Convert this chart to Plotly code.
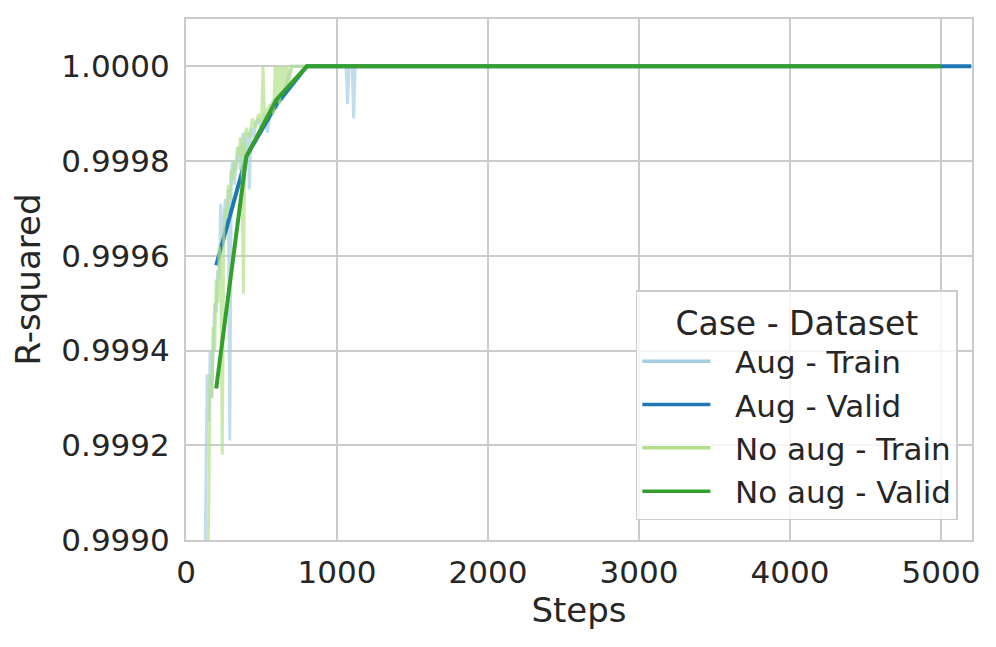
import plotly.graph_objects as go

# ── Data ──────────────────────────────────────────────────────────────────────
aug_train_steps = [110, 120, 130, 140, 150, 160, 170, 180, 190, 200, 210, 220, 230, 240,
                   250, 260, 270, 280, 290, 300, 310, 320, 330, 340, 350, 360, 370, 380,
                   390, 400, 410, 420, 430, 440, 450, 460, 480, 500, 520, 540, 560, 580,
                   600, 620, 640, 660, 680, 700, 720, 800, 900, 1000, 1060, 1070, 1080,
                   1100, 1110, 1120, 1200, 2000, 3000, 4000, 5000]
aug_train_r2 = [0.99850, 0.99880, 0.99905, 0.99935, 0.99925, 0.99940, 0.99930, 0.99942,
                0.99950, 0.99948, 0.99957, 0.99955, 0.99971, 0.99962, 0.99968, 0.99972,
                0.99966, 0.99974, 0.99921, 0.99978, 0.99980, 0.99975, 0.99979, 0.99981,
                0.99983, 0.99978, 0.99984, 0.99986, 0.99980, 0.99984, 0.99986, 0.99974,
                0.99986, 0.99987, 0.99985, 0.99988, 0.99989, 0.99986, 0.99990, 0.99986,
                0.99991, 0.99993, 0.99991, 0.99994, 0.99993, 0.99996, 0.99998, 1.00000,
                1.00000, 1.00000, 1.00000, 1.00000, 1.00000, 0.99992, 1.00000, 1.00000,
                0.99989, 1.00000, 1.00000, 1.00000, 1.00000, 1.00000, 1.00000]

aug_valid_steps = [200, 400, 600, 800, 1000, 2000, 3000, 4000, 5000, 5200]
aug_valid_r2 = [0.99958, 0.99981, 0.99992, 1.00000, 1.00000, 1.00000, 1.00000, 1.00000,
                1.00000, 1.00000]

noaug_train_steps = [100, 110, 120, 130, 140, 150, 160, 170, 180, 190, 200, 210, 220, 230,
                     240, 250, 260, 270, 280, 290, 300, 310, 320, 330, 340, 350, 360, 370,
                     380, 390, 400, 420, 440, 460, 480, 500, 510, 520, 540, 560, 580, 590,
                     600, 610, 620, 630, 640, 650, 660, 670, 680, 700, 800, 1000, 2000,
                     3000, 4000, 5000]
noaug_train_r2 = [0.99860, 0.99880, 0.99895, 0.99870, 0.99885, 0.99905, 0.99935, 0.99930,
                  0.99945, 0.99940, 0.99955, 0.99950, 0.99962, 0.99960, 0.99918, 0.99965,
                  0.99970, 0.99968, 0.99975, 0.99972, 0.99978, 0.99976, 0.99980, 0.99978,
                  0.99983, 0.99981, 0.99985, 0.99983, 0.99952, 0.99985, 0.99987, 0.99985,
                  0.99989, 0.99987, 0.99990, 0.99988, 1.00000, 0.99989, 0.99991, 0.99992,
                  0.99990, 1.00000, 0.99993, 1.00000, 0.99992, 1.00000, 0.99994, 1.00000,
                  0.99995, 1.00000, 0.99996, 1.00000, 1.00000, 1.00000, 1.00000, 1.00000,
                  1.00000, 1.00000]

noaug_valid_steps = [200, 400, 600, 800, 1000, 2000, 3000, 4000, 5000]
noaug_valid_r2 = [0.99932, 0.99981, 0.99993, 1.00000, 1.00000, 1.00000, 1.00000, 1.00000,
                  1.00000]

series = [
    ("Aug - Train", aug_train_steps, aug_train_r2, "#a6cee3", 0.7, 3),
    ("Aug - Valid", aug_valid_steps, aug_valid_r2, "#1f78b4", 1.0, 4),
    ("No aug - Train", noaug_train_steps, noaug_train_r2, "#b2df8a", 0.7, 3),
    ("No aug - Valid", noaug_valid_steps, noaug_valid_r2, "#33a02c", 1.0, 4),
]


def rgba(hex_color, alpha):
    h = hex_color.lstrip("#")
    r, g, b = (int(h[i:i + 2], 16) for i in (0, 2, 4))
    return f"rgba({r},{g},{b},{alpha})"


fig = go.Figure()

# ── Lines (drawn in hue order, like seaborn) ─────────────────────────────────
for name, xs, ys, color, alpha, width in series:
    fig.add_trace(go.Scatter(
        x=xs, y=ys, mode="lines", name=name, legendgroup=name,
        showlegend=False,
        line=dict(color=rgba(color, alpha), width=width),
    ))

# legend-only entries at full colour
for name, xs, ys, color, alpha, width in series:
    fig.add_trace(go.Scatter(
        x=[None], y=[None], mode="lines", name="\u00a0\u00a0" + name,
        legendgroup=name,
        line=dict(color=color, width=3.5),
    ))

TEXT = "#262626"
GRID = "#cccccc"

# page body adds an 8px offset, margins account for it
fig.update_layout(
    width=996, height=647,
    plot_bgcolor="white", paper_bgcolor="white",
    font=dict(family="DejaVu Sans", size=31, color=TEXT),
    margin=dict(l=178, r=32, t=9, b=115),
    legend=dict(
        title=dict(text="Case - Dataset", side="top center",
                   font=dict(size=33, color=TEXT)),
        font=dict(size=31, color=TEXT),
        x=0.982, y=0.038, xanchor="right", yanchor="bottom",
        bgcolor="rgba(255,255,255,0.8)",
        bordercolor=GRID, borderwidth=1.5,
        itemwidth=68,
        tracegroupgap=0,
    ),
)

fig.update_xaxes(
    range=[0, 5205], dtick=1000, tick0=0,
    showgrid=True, gridcolor=GRID, gridwidth=1.5,
    showline=True, linecolor=GRID, linewidth=2, mirror=True,
    zeroline=False, ticks="", ticklabelstandoff=4,
    title=dict(text="Steps", font=dict(size=34, color=TEXT), standoff=6),
)
fig.update_yaxes(
    range=[0.9990, 1.0001], dtick=0.0002, tick0=0.9990, tickformat=".4f",
    showgrid=True, gridcolor=GRID, gridwidth=1.5,
    showline=True, linecolor=GRID, linewidth=2, mirror=True,
    zeroline=False, ticks="", ticklabelstandoff=8,
    title=dict(text="R-squared", font=dict(size=34, color=TEXT), standoff=12),
)

fig.write_html("out.html")
